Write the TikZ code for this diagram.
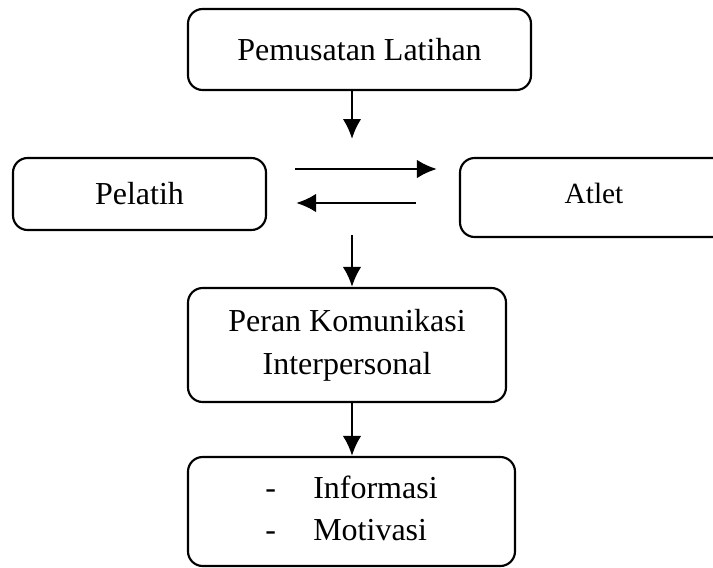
\documentclass[tikz,border=0pt]{standalone}
\usepackage{fontspec}
\setmainfont{Liberation Serif}
\usetikzlibrary{arrows.meta}

\tikzset{every picture/.style={line width=1.6pt}}
\tikzset{
  kotak/.style={draw, rounded corners=11pt, inner sep=0.75pt, align=center,
    font=\fontsize{24}{32}\selectfont},
  panah/.style={line width=2.1pt, -{Latex[length=15pt,width=14pt]}}
}

\begin{document}
\begin{tikzpicture}[x=0.75pt,y=0.75pt,yscale=-1,xscale=1]
			%set diagram to the size of the page
			\useasboundingbox (0,0) rectangle (713,567);
			\clip (0,0) rectangle (713,567);
			
			%Shape: Rounded Rect [id:top]
			\node [kotak, minimum width=257.25pt, minimum height=60.75pt] (pemusatan) at (359.5,49.5) {Pemusatan Latihan};
			%Shape: Rounded Rect [id:pelatih]
			\node [kotak, minimum width=189.75pt, minimum height=54pt] (pelatih) at (139.5,194) {Pelatih};
			%Shape: Rounded Rect [id:atlet]
			\node [kotak, minimum width=201pt, minimum height=59.25pt, font=\fontsize{22}{30}\selectfont] (atlet) at (594,197.5) {\raisebox{7pt}{Atlet}};
			%Shape: Rounded Rect [id:peran]
			\node [kotak, minimum width=238.5pt, minimum height=85.5pt] (peran) at (347,345) {Peran Komunikasi\\Interpersonal};
			%Shape: Rounded Rect [id:hasil]
			\node [kotak, minimum width=245.25pt, minimum height=81.75pt, font=\fontsize{24}{31.5}\selectfont] (hasil) at (351.5,511.5)
			  {\raisebox{-4pt}{\begin{tabular}{@{}l@{\hspace{28pt}}l@{}}- & Informasi\\- & Motivasi\end{tabular}}};
			
			%Free ends of the arrows
			\coordinate (ujung1) at (352,139);
			\coordinate (pangkal2) at (352,235);
			
			%Straight Lines [id:down1]
			\draw [panah]   (pemusatan.south -| ujung1) -- (ujung1) ;
			%Straight Lines [id:right]
			\draw [panah, shorten <=21pt, shorten >=16.5pt]   (pelatih.east |- 0,169) -- (atlet.west |- 0,169) ;
			%Straight Lines [id:left]
			\draw [panah, shorten <=32.25pt, shorten >=21.75pt]   (atlet.west |- 0,203) -- (pelatih.east |- 0,203) ;
			%Straight Lines [id:down2]
			\draw [panah]   (pangkal2) -- (peran.north -| pangkal2) ;
			%Straight Lines [id:down3]
			\draw [panah]   (peran.south -| pangkal2) -- (hasil.north -| pangkal2) ;
			
		\end{tikzpicture}
\end{document}
